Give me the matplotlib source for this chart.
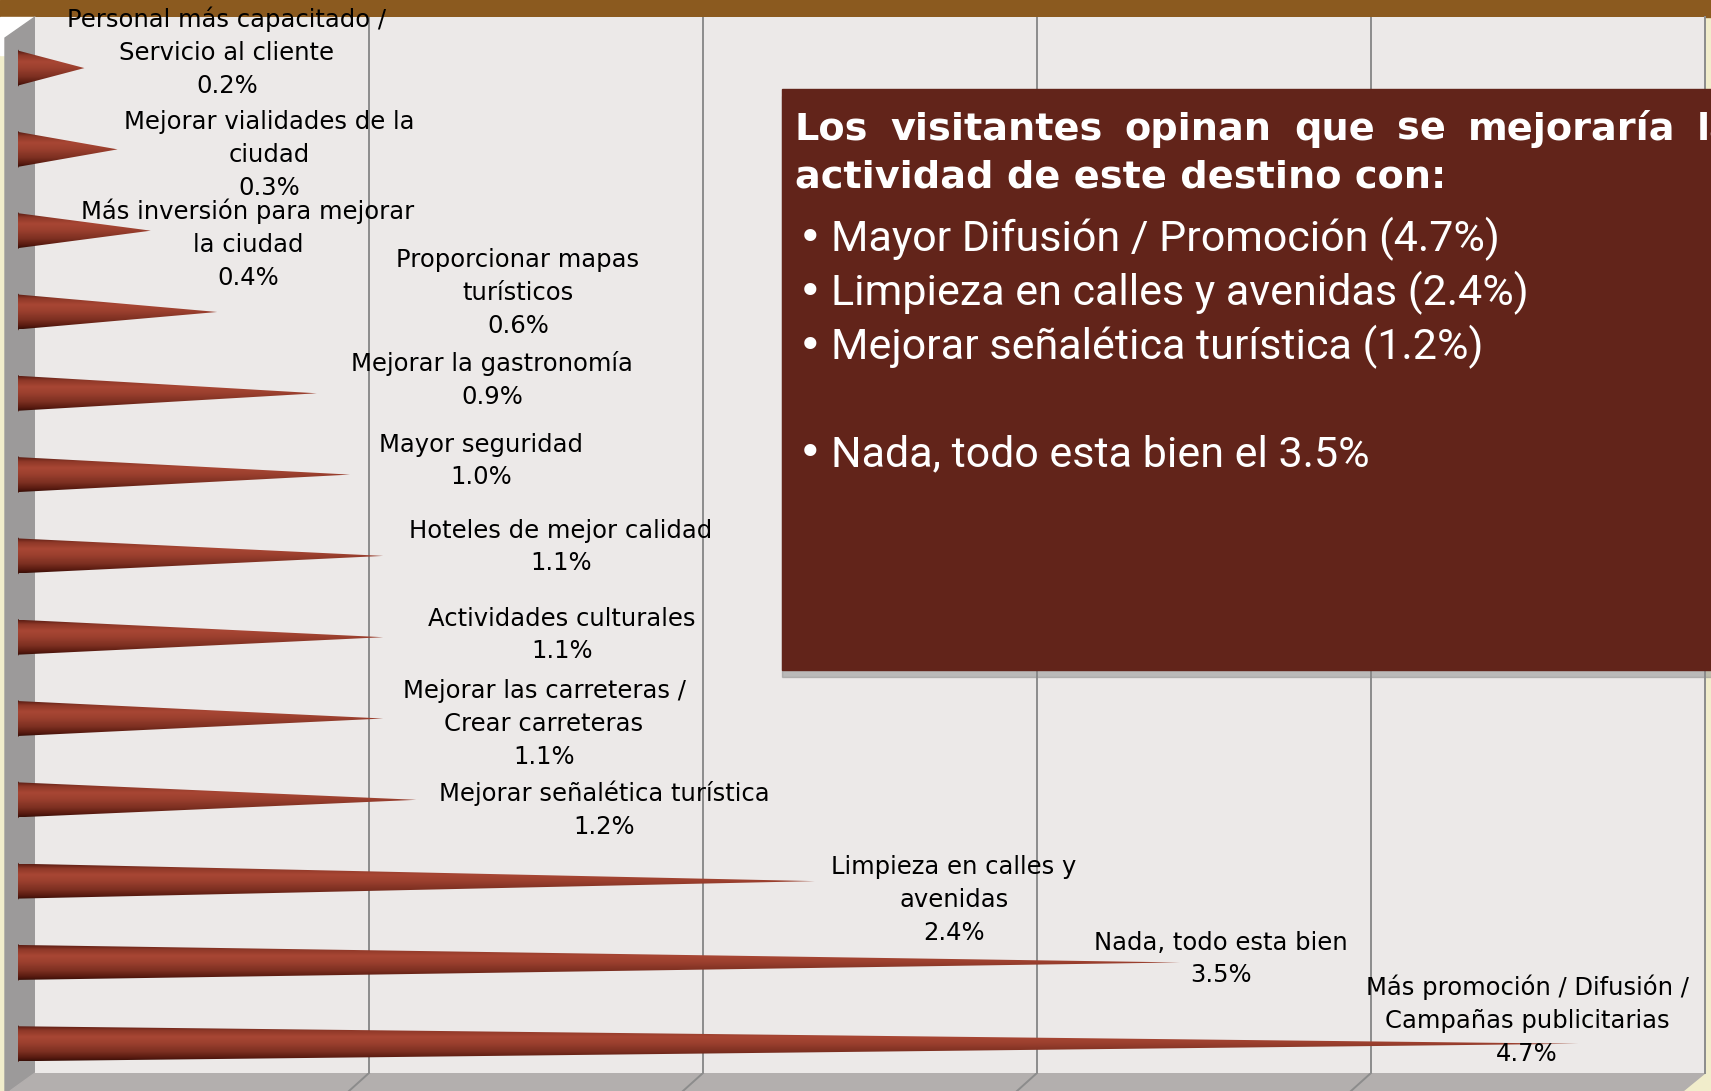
import matplotlib.pyplot as plt
import numpy as np
from matplotlib.patches import Rectangle, Polygon
from matplotlib.colors import LinearSegmentedColormap

# data (top to bottom as in the chart)
categorias = [
    "Personal más capacitado /\nServicio al cliente",
    "Mejorar vialidades de la\nciudad",
    "Más inversión para mejorar\nla ciudad",
    "Proporcionar mapas\nturísticos",
    "Mejorar la gastronomía",
    "Mayor seguridad",
    "Hoteles de mejor calidad",
    "Actividades culturales",
    "Mejorar las carreteras /\nCrear carreteras",
    "Mejorar señalética turística",
    "Limpieza en calles y\navenidas",
    "Nada, todo esta bien",
    "Más promoción / Difusión /\nCampañas publicitarias",
]
valores = [0.2, 0.3, 0.4, 0.6, 0.9, 1.0, 1.1, 1.1, 1.1, 1.2, 2.4, 3.5, 4.7]

titulo = ["Los", "visitantes", "opinan", "que", "se", "mejoraría", "la"]
titulo2 = "actividad de este destino con:"
puntos = ["Mayor Difusión / Promoción (4.7%)",
          "Limpieza en calles y avenidas (2.4%)",
          "Mejorar señalética turística (1.2%)",
          "Nada, todo esta bien el 3.5%"]

W, H = 1711, 1091
fig = plt.figure(figsize=(W / 100, H / 100), dpi=100)
fig.patch.set_facecolor('#F1EDCB')


def px_axes(z):
    a = fig.add_axes([0, 0, 1, 1], zorder=z)
    a.set_xlim(0, W)
    a.set_ylim(H, 0)
    a.axis('off')
    a.patch.set_alpha(0)
    return a


# background pieces: top band, side wall, floor
deco = px_axes(-1)
deco.add_patch(Rectangle((0, 0), W, 17, color='#8B5A1F'))
deco.add_patch(Rectangle((0, 17), 35, 38, color='white'))
deco.add_patch(Polygon([(5, 38), (35, 17), (35, 1073), (10, 1091), (5, 1091)], color='#9C9A9A'))
deco.add_patch(Polygon([(35, 1073), (1705, 1073), (1683, 1091), (10, 1091)], color='#B3AFAE'))
for k in range(1, 5):
    gx = 35 + k * 1670 / 5
    deco.plot([gx, gx - 20], [1073, 1091], color='#8C8C8C', lw=1.4)

# back wall with gridlines
wall = fig.add_axes([35 / W, 1 - 1073 / H, 1670 / W, 1056 / H], zorder=0)
wall.set_facecolor('#ECE9E8')
wall.set_xlim(0, 5)
wall.set_ylim(0, 1)
wall.set_xticks(range(1, 5))
wall.set_yticks([])
wall.tick_params(length=0, labelbottom=False)
wall.grid(axis='x', color='#8C8C8C', lw=1.4)
for s in ['top', 'bottom', 'left']:
    wall.spines[s].set_visible(False)
wall.spines['right'].set_color('#8C8C8C')
wall.spines['right'].set_linewidth(1.4)

# cones
ax = fig.add_axes([18 / W, 1 - 1084.4 / H, (W - 18) / W, 1057 / H], zorder=1)
ax.axis('off')
ax.patch.set_alpha(0)
cmap = LinearSegmentedColormap.from_list('cono', [
    (0.0, '#5E1E14'), (0.12, '#8E3828'), (0.3, '#A84634'), (0.5, '#9A3F2E'),
    (0.75, '#7A2E20'), (0.92, '#55190F'), (1.0, '#3A0F08')])
grad = np.linspace(0, 1, 64).reshape(-1, 1)
h = 0.215
a_el = 0.016
t = np.linspace(np.pi / 2, 3 * np.pi / 2, 30)
for i, v in enumerate(valores):
    xs = list(a_el * np.cos(t)) + [v]
    ys = list(i - h * np.sin(t)) + [i]
    poly = Polygon(np.column_stack([xs, ys]), closed=True, fc='none', ec='none')
    ax.add_patch(poly)
    im = ax.imshow(grad, cmap=cmap, aspect='auto', origin='upper',
                   extent=[-a_el, v, i + h, i - h], interpolation='bilinear')
    im.set_clip_path(poly)
    ax.plot(a_el * np.cos(t), i - h * np.sin(t), color='#4A150C', lw=1)
ax.set_xlim(0, (W - 18) / 332)
ax.set_ylim(12.5, -0.5)

# overlay: labels and text box
top = px_axes(3)
label_pos = [(227, 52), (269, 155), (248, 244), (518, 293), (492, 380), (481, 461),
             (561, 547), (562, 635), (544, 724), (604, 810), (954, 900), (1221, 959),
             (1527, 1020)]
for (lx, ly), c, v in zip(label_pos, categorias, valores):
    top.text(lx, ly, f"{c}\n{v:.1f}%", ha='center', va='center', fontsize=17.5,
             family='DejaVu Sans', linespacing=1.47, color='black')

top.add_patch(Rectangle((782, 96), 945, 581, color='#8a8a8a', alpha=0.5))
top.add_patch(Rectangle((782, 89), 945, 581, color='#62241A'))

# justified first title line, last word cut by the edge
tfont = dict(fontsize=27.5, fontweight='bold', family='DejaVu Sans', color='white',
             va='baseline')
renderer = fig.canvas.get_renderer()
words = [top.text(0, 140, w, **tfont) for w in titulo]
widths = [w.get_window_extent(renderer).width for w in words]
x0, xlast = 795, 1697
gap = (xlast - x0 - sum(widths[:-1])) / (len(words) - 1)
x = x0
for w, wd in zip(words, widths):
    w.set_x(x)
    x += wd + gap
top.text(795, 187, titulo2, **tfont)

bfont = dict(fontsize=31, family='Roboto', color='white', va='baseline')
for yb, p in zip([251, 305, 359, 466], puntos):
    top.text(798, yb, "•", fontsize=30, family='DejaVu Sans', color='white', va='baseline')
    top.text(831, yb, p, **bfont)

fig.savefig('out.png', dpi=100, facecolor=fig.get_facecolor())
